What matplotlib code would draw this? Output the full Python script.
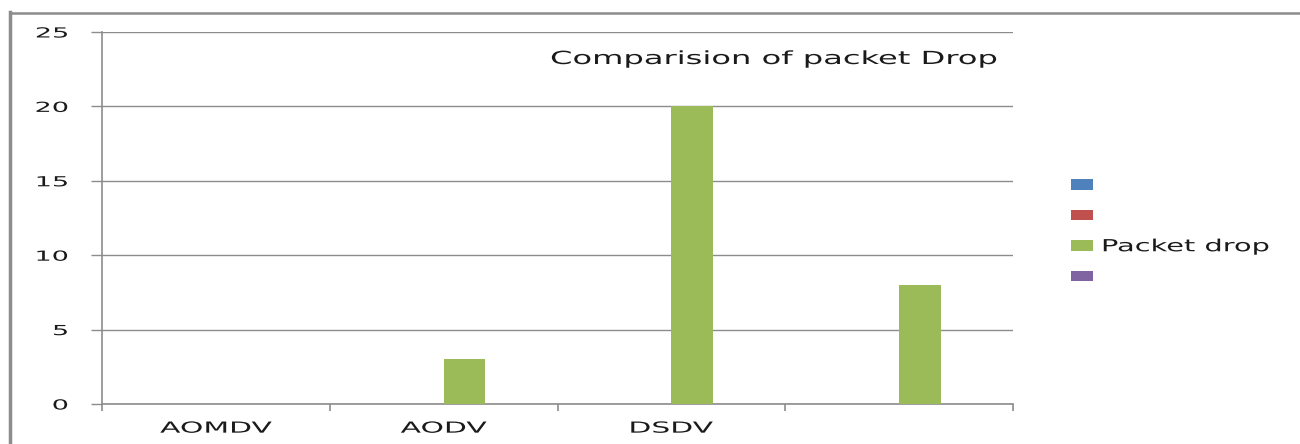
import matplotlib
matplotlib.use("Agg")
import matplotlib.pyplot as plt
from matplotlib.lines import Line2D
from matplotlib.patheffects import AbstractPathEffect
from matplotlib.transforms import Affine2D
import numpy as np

# Chart data
categories = ["AOMDV", "AODV", "DSDV", ""]
series_names = ["", "", "Packet drop", ""]
series_colors = ["#4F81BD", "#C0504D", "#9BBB59", "#8064A2"]
blank_series = [0, 0, 0, 0]
packet_drop = [0, 3, 20, 8]
series_values = [blank_series, blank_series, packet_drop, blank_series]
y_ticks = [0, 5, 10, 15, 20, 25]


class Widen(AbstractPathEffect):
    """Draw text glyphs horizontally widened about a chosen anchor."""

    def __init__(self, sx, anchor="center"):
        super().__init__()
        self.sx = sx
        self.anchor = anchor

    def draw_path(self, renderer, gc, tpath, affine, rgbFace=None):
        ext = tpath.get_extents()
        if self.anchor == "left":
            cx = ext.x0
        elif self.anchor == "right":
            cx = ext.x1
        else:
            cx = 0.5 * (ext.x0 + ext.x1)
        t = Affine2D().translate(-cx, 0).scale(self.sx, 1).translate(cx, 0) + affine
        renderer.draw_path(gc, tpath, t, rgbFace)


W, H, DPI = 1300, 444, 100
fig = plt.figure(figsize=(W / DPI, H / DPI), dpi=DPI)
fig.patch.set_facecolor("white")
FONT = "DejaVu Sans"
TXT = "#1a1a1a"

# Outer chart frame (left and top edges visible)
frame_col = "#8c8c8c"
fig.add_artist(Line2D([10 / W, 10 / W], [0, 1 - 12 / H], transform=fig.transFigure,
                      color=frame_col, lw=2.5))
fig.add_artist(Line2D([10 / W, 1], [1 - 13 / H, 1 - 13 / H], transform=fig.transFigure,
                      color=frame_col, lw=1.8))

left, right, bottom, top = 102 / W, 1013 / W, 1 - 404 / H, 1 - 32 / H
ax = fig.add_axes([left, bottom, right - left, top - bottom])

n = len(series_values)
gap = 1.5
bw = 1.0 / (n + gap)
x = np.arange(len(categories))
handles = []
for i, (vals, col, name) in enumerate(zip(series_values, series_colors, series_names)):
    bars = ax.bar(x + (i - (n - 1) / 2) * bw, vals, width=bw, color=col,
                  edgecolor="none", zorder=3, label=name)
    handles.append(bars)

ax.set_xlim(-0.5, len(categories) - 0.5)
ax.set_ylim(0, 25)
ax.set_yticks(y_ticks)
ax.set_yticklabels([str(t) for t in y_ticks], fontsize=10, family=FONT, color=TXT)
ax.yaxis.grid(True, color="#8c8c8c", lw=1.0, zorder=0)
ax.tick_params(axis="y", length=8, width=1, color="#8c8c8c", pad=16.5)

# Category ticks at boundaries, labels centered
ax.set_xticks(np.arange(len(categories) + 1) - 0.5)
ax.set_xticklabels([])
ax.set_xticks(x, minor=True)
ax.set_xticklabels(categories, minor=True, fontsize=11, family=FONT, color=TXT)
ax.tick_params(axis="x", which="major", length=5, width=1.2, color="#8c8c8c", direction="out")
ax.tick_params(axis="x", which="minor", length=0, pad=12)

for lbl in ax.get_yticklabels():
    lbl.set_path_effects([Widen(1.95, "right")])
for lbl in ax.get_xticklabels(minor=True):
    lbl.set_path_effects([Widen(1.95, "center")])

for s in ["top", "right"]:
    ax.spines[s].set_visible(False)
for s in ["left", "bottom"]:
    ax.spines[s].set_color("#8c8c8c")
    ax.spines[s].set_linewidth(1.2)

title = fig.text(997 / W, 1 - 59 / H, "Comparision of packet Drop",
                 ha="right", va="center", fontsize=13, family=FONT, color=TXT)
title.set_path_effects([Widen(1.78, "right")])

leg = fig.legend(handles=handles, labels=series_names, loc="center left",
                 bbox_to_anchor=(1056 / W, 1 - 231 / H), frameon=False,
                 handlelength=1.32, handleheight=0.6,
                 handletextpad=0.55, labelspacing=0.75,
                 prop={"family": FONT, "size": 12})
for t in leg.get_texts():
    t.set_color(TXT)
    t.set_path_effects([Widen(1.73, "left")])

fig.savefig("out.png", dpi=DPI, facecolor="white")
